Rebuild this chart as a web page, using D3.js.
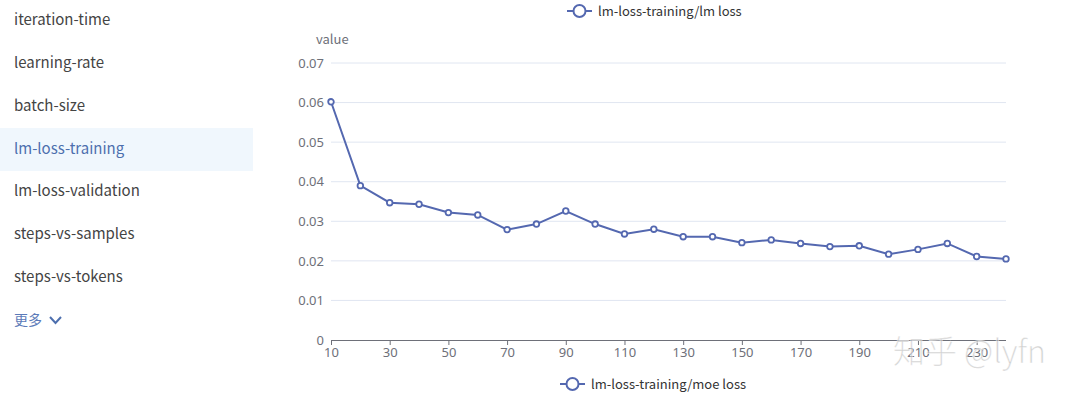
<!DOCTYPE html>
<html>
<head>
<meta charset="utf-8">
<script src="https://cdn.jsdelivr.net/npm/d3@7"></script>
<style>
  body { margin: 0; background: #fff; font-family: "Noto Sans CJK SC", "Noto Sans", sans-serif; }
  #chart { width: 1080px; height: 397px; }
</style>
</head>
<body>
<div id="chart"></div>
<script>
// data
let menuItems = ['iteration-time', 'learning-rate', 'batch-size', 'lm-loss-training',
    'lm-loss-validation', 'steps-vs-samples', 'steps-vs-tokens'];
let activeItem = 'lm-loss-training';
let steps = [10, 20, 30, 40, 50, 60, 70, 80, 90, 100, 110, 120,
    130, 140, 150, 160, 170, 180, 190, 200, 210, 220, 230, 240];
let lmLoss = [0.0602, 0.0390, 0.0347, 0.0343, 0.0322, 0.0316, 0.0279, 0.0293, 0.0326, 0.0293, 0.0268, 0.0280,
    0.0261, 0.0261, 0.0246, 0.0253, 0.0244, 0.0236, 0.0238, 0.0217, 0.0229, 0.0244, 0.0211, 0.0205];
let yTicks = [0, 0.01, 0.02, 0.03, 0.04, 0.05, 0.06, 0.07];
let topLegend = 'lm-loss-training/lm loss';
let bottomLegend = 'lm-loss-training/moe loss';

let width = 1080, height = 397,
    margin = {left: 331, top: 63, right: 74, bottom: 57},
    clipWidth = width - margin.left - margin.right,
    clipHeight = height - margin.top - margin.bottom;

let lineColor = '#5468b0', axisColor = '#6e7079', textColor = '#333';

let svg = d3.select('#chart').append('svg')
    .attr('width', width)
    .attr('height', height);

// side menu
let menu_g = svg.append('g').attr('class', 'menu_g');
menu_g.append('rect')
    .attr('x', 0).attr('y', 128)
    .attr('width', 253).attr('height', 43)
    .attr('fill', '#f0f7fd');
menu_g.selectAll('text.item')
    .data(menuItems)
    .join('text')
    .attr('class', 'item')
    .attr('x', 14)
    .attr('y', (d, i) => 20 + i * 42.8)
    .attr('dy', '0.35em')
    .attr('fill', d => d === activeItem ? '#4d6fae' : '#444')
    .style('font-size', '15px')
    .text(d => d);
menu_g.append('text')
    .attr('x', 14).attr('y', 320).attr('dy', '0.35em')
    .attr('fill', '#5b7ab8')
    .style('font-size', '14px')
    .text('更多');
menu_g.append('path')
    .attr('d', 'M50,317 L55.5,323 L61,317')
    .attr('fill', 'none')
    .attr('stroke', '#4d6fae')
    .attr('stroke-width', 2);

let chart = svg.append('g')
    .attr('transform', `translate(${margin.left}, ${margin.top})`);

let xScale = d3.scalePoint()
    .domain(steps)
    .range([0, clipWidth]);

let yScale = d3.scaleLinear()
    .domain([0, 0.07])
    .range([clipHeight, 0]);

// grid
chart.append('g')
    .selectAll('line')
    .data(yTicks.slice(1))
    .join('line')
    .attr('x1', 0).attr('x2', clipWidth)
    .attr('y1', d => yScale(d)).attr('y2', d => yScale(d))
    .attr('stroke', '#e0e6f1');

// y axis labels
let yAxis = chart.append('g')
    .call(d3.axisLeft(yScale).tickValues(yTicks).tickSize(0).tickPadding(7).tickFormat(d => d === 0 ? '0' : d3.format('.2f')(d)));
yAxis.select('.domain').remove();
yAxis.selectAll('text')
    .attr('fill', axisColor)
    .style('font-size', '13px')
    .style('font-family', '"Noto Sans", sans-serif');

chart.append('text')
    .attr('x', -15).attr('y', -19)
    .attr('fill', axisColor)
    .style('font-size', '13px')
    .text('value');

// x axis
let xAxis = chart.append('g')
    .attr('transform', `translate(0, ${clipHeight})`)
    .call(d3.axisBottom(xScale)
        .tickValues(steps.filter((d, i) => i % 2 === 0))
        .tickSize(5).tickSizeOuter(0).tickPadding(3));
xAxis.select('.domain').attr('stroke', axisColor).attr('d', `M0.5,0.5H${clipWidth}`);
xAxis.selectAll('.tick line').attr('stroke', axisColor);
xAxis.selectAll('text')
    .attr('fill', axisColor)
    .style('font-size', '13px')
    .style('font-family', '"Noto Sans", sans-serif');

// line
let line = d3.line()
    .x((d, i) => xScale(steps[i]))
    .y(d => yScale(d));

chart.append('path')
    .datum(lmLoss)
    .attr('d', line)
    .attr('fill', 'none')
    .attr('stroke', lineColor)
    .attr('stroke-width', 2);

chart.append('g')
    .selectAll('circle')
    .data(lmLoss)
    .join('circle')
    .attr('cx', (d, i) => xScale(steps[i]))
    .attr('cy', d => yScale(d))
    .attr('r', 2.8)
    .attr('fill', '#fff')
    .attr('stroke', lineColor)
    .attr('stroke-width', 1.8);

// legends
function drawLegend(x, y, label) {
    let g = svg.append('g').attr('transform', `translate(${x}, ${y})`);
    g.append('line').attr('x1', 0).attr('x2', 25).attr('stroke', lineColor).attr('stroke-width', 2);
    g.append('circle').attr('cx', 12.5).attr('r', 6).attr('fill', '#fff').attr('stroke', lineColor).attr('stroke-width', 2);
    g.append('text').attr('x', 31).attr('dy', '0.35em')
        .attr('fill', textColor).style('font-size', '13px').text(label);
}
drawLegend(567, 11, topLegend);
drawLegend(560, 384, bottomLegend);

// watermark
svg.append('text')
    .attr('x', 893).attr('y', 363)
    .attr('fill', 'rgba(150,150,150,0.5)')
    .attr('stroke', 'rgba(255,255,255,0.6)')
    .attr('stroke-width', 1)
    .style('font-size', '32px')
    .style('font-weight', 300)
    .text('知乎 @lyfn');
</script>
</body>
</html>
